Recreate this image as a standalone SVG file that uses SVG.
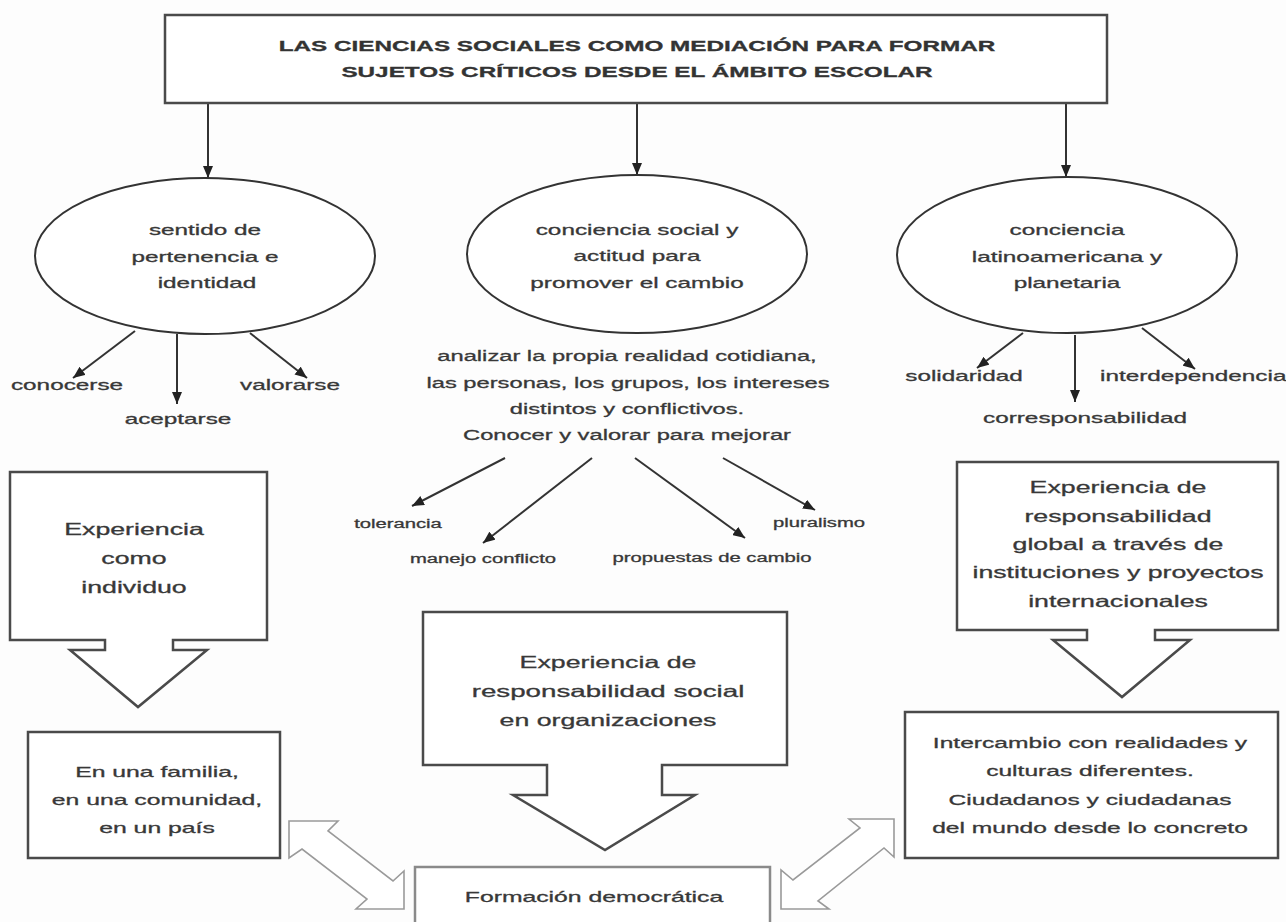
<svg xmlns="http://www.w3.org/2000/svg" width="1286" height="922" viewBox="0 0 1286 922">
<style>
text{font-family:"Liberation Sans",Arial,sans-serif;fill:#383838;stroke:#383838;stroke-width:0.3;text-anchor:middle}
.ti{font-size:15px;font-weight:bold;fill:#333;stroke:#333}
.e{font-size:15px}
.s{font-size:12.5px}
.b{font-size:16.5px}
.st{text-anchor:start}
.sh{fill:#fff;stroke:#4a4a4a;stroke-width:2.5}
.el{fill:#fff;stroke:#333;stroke-width:2}
.dbl{fill:#fff;stroke:#9a9a9a;stroke-width:1.6;stroke-linejoin:miter}
.c line{stroke:#333;stroke-width:2}
</style>
<defs>
<marker id="ah" markerUnits="userSpaceOnUse" markerWidth="12" markerHeight="10" refX="12" refY="5" orient="auto">
<path d="M0,0 L12,5 L0,10 Z" fill="#222"/>
</marker>
</defs>
<rect width="1286" height="922" fill="#fdfdfd"/>

<g class="c" id="connectors">
<line x1="208" y1="103" x2="208" y2="178" marker-end="url(#ah)"/>
<line x1="637" y1="103" x2="637" y2="175" marker-end="url(#ah)"/>
<line x1="1066" y1="103" x2="1066" y2="177" marker-end="url(#ah)"/>
<line x1="135" y1="331" x2="73" y2="378" marker-end="url(#ah)"/>
<line x1="177" y1="334" x2="177" y2="404" marker-end="url(#ah)"/>
<line x1="250" y1="333" x2="307" y2="378" marker-end="url(#ah)"/>
<line x1="505" y1="458" x2="412" y2="506" marker-end="url(#ah)"/>
<line x1="592" y1="458" x2="483" y2="543" marker-end="url(#ah)"/>
<line x1="635" y1="458" x2="745" y2="538" marker-end="url(#ah)"/>
<line x1="723" y1="458" x2="815" y2="510" marker-end="url(#ah)"/>
<line x1="1023" y1="333" x2="977" y2="368" marker-end="url(#ah)"/>
<line x1="1075" y1="335" x2="1075" y2="402" marker-end="url(#ah)"/>
<line x1="1142" y1="328" x2="1195" y2="369" marker-end="url(#ah)"/>
<polygon class="dbl" points="289,821 338,821 328,831 393,881 404,871 404,909 356,909 367,899 302,849 289,858"/>
<polygon class="dbl" points="894,819 894,857 884,848 818,901 829,909 781,909 781,870 793,880 860,828 849,819"/>
</g>

<g id="title">
<rect class="sh" x="165" y="15" width="942" height="88"/>
<text class="ti" transform="translate(637 51) scale(1.62 1)">LAS CIENCIAS SOCIALES COMO MEDIACIÓN PARA FORMAR</text>
<text class="ti" transform="translate(637 77) scale(1.62 1)">SUJETOS CRÍTICOS DESDE EL ÁMBITO ESCOLAR</text>
</g>

<g id="pertenencia">
<ellipse class="el" cx="205" cy="256" rx="170" ry="78"/>
<text class="e" transform="translate(205 235) scale(1.62 1)">sentido de</text>
<text class="e" transform="translate(205 262) scale(1.62 1)">pertenencia e</text>
<text class="e" transform="translate(207 288) scale(1.62 1)">identidad</text>
</g>
<g id="conocerse"><text class="e" transform="translate(67 390) scale(1.62 1)">conocerse</text></g>
<g id="aceptarse"><text class="e" transform="translate(178 424) scale(1.62 1)">aceptarse</text></g>
<g id="valorarse"><text class="e" transform="translate(290 390) scale(1.62 1)">valorarse</text></g>

<g id="conciencia-social">
<ellipse class="el" cx="637" cy="254" rx="170" ry="79"/>
<text class="e" transform="translate(637 235) scale(1.62 1)">conciencia social y</text>
<text class="e" transform="translate(637 261) scale(1.62 1)">actitud para</text>
<text class="e" transform="translate(637 288) scale(1.62 1)">promover el cambio</text>
</g>
<g id="analizar">
<text class="e" transform="translate(627 361) scale(1.58 1)">analizar la propia realidad cotidiana,</text>
<text class="e" transform="translate(628 388) scale(1.58 1)">las personas, los grupos, los intereses</text>
<text class="e" transform="translate(627 414) scale(1.58 1)">distintos y conflictivos.</text>
<text class="e" transform="translate(627 440) scale(1.58 1)">Conocer y valorar para mejorar</text>
</g>
<g id="tolerancia"><text class="s" transform="translate(398 528) scale(1.62 1)">tolerancia</text></g>
<g id="manejo"><text class="s" transform="translate(483 563) scale(1.62 1)">manejo conflicto</text></g>
<g id="propuestas"><text class="s" transform="translate(712 562) scale(1.62 1)">propuestas de cambio</text></g>
<g id="pluralismo"><text class="s" transform="translate(819 527) scale(1.62 1)">pluralismo</text></g>

<g id="conciencia-latam">
<ellipse class="el" cx="1067" cy="255" rx="170" ry="78"/>
<text class="e" transform="translate(1067 235) scale(1.62 1)">conciencia</text>
<text class="e" transform="translate(1067 262) scale(1.62 1)">latinoamericana y</text>
<text class="e" transform="translate(1067 288) scale(1.62 1)">planetaria</text>
</g>
<g id="solidaridad"><text class="e" transform="translate(964 381) scale(1.62 1)">solidaridad</text></g>
<g id="corresponsabilidad"><text class="e" transform="translate(1085 423) scale(1.62 1)">corresponsabilidad</text></g>
<g id="interdependencia"><text class="e st" transform="translate(1100 381) scale(1.62 1)">interdependencia</text></g>

<g id="exp-individuo">
<path class="sh" d="M10,472 H267 V640 H173 V650 H207 L138,707 L70,650 H105 V640 H10 Z"/>
<text class="b" transform="translate(134 535) scale(1.62 1)">Experiencia</text>
<text class="b" transform="translate(134 564) scale(1.62 1)">como</text>
<text class="b" transform="translate(134 593) scale(1.62 1)">individuo</text>
</g>
<g id="familia">
<rect class="sh" x="28" y="732" width="252" height="126"/>
<text class="e" transform="translate(157 777) scale(1.65 1)">En una familia,</text>
<text class="e" transform="translate(157 805) scale(1.65 1)">en una comunidad,</text>
<text class="e" transform="translate(157 833) scale(1.65 1)">en un país</text>
</g>

<g id="exp-social">
<path class="sh" d="M423,612 H787 V765 H662 V795 H695 L605,850 L513,795 H547 V765 H423 Z"/>
<text class="b" transform="translate(608 668) scale(1.62 1)">Experiencia de</text>
<text class="b" transform="translate(608 697) scale(1.68 1)">responsabilidad social</text>
<text class="b" transform="translate(608 726) scale(1.62 1)">en organizaciones</text>
</g>
<g id="formacion">
<rect x="415" y="867" width="355" height="80" fill="#fff" stroke="#8a8a8a" stroke-width="2.5"/>
<text class="e" transform="translate(594 902) scale(1.65 1)">Formación democrática</text>
</g>

<g id="exp-global">
<path class="sh" d="M957,462 H1278 V630 H1155 V640 H1190 L1122,697 L1053,640 H1087 V630 H957 Z"/>
<text class="b" transform="translate(1118 493) scale(1.62 1)">Experiencia de</text>
<text class="b" transform="translate(1118 522) scale(1.62 1)">responsabilidad</text>
<text class="b" transform="translate(1118 550) scale(1.62 1)">global a través de</text>
<text class="b" transform="translate(1118 578) scale(1.62 1)">instituciones y proyectos</text>
<text class="b" transform="translate(1118 607) scale(1.62 1)">internacionales</text>
</g>
<g id="intercambio">
<rect class="sh" x="905" y="712" width="373" height="146"/>
<text class="e" transform="translate(1090 748) scale(1.64 1)">Intercambio con realidades y</text>
<text class="e" transform="translate(1090 776) scale(1.64 1)">culturas diferentes.</text>
<text class="e" transform="translate(1090 805) scale(1.64 1)">Ciudadanos y ciudadanas</text>
<text class="e" transform="translate(1090 833) scale(1.64 1)">del mundo desde lo concreto</text>
</g>
</svg>
